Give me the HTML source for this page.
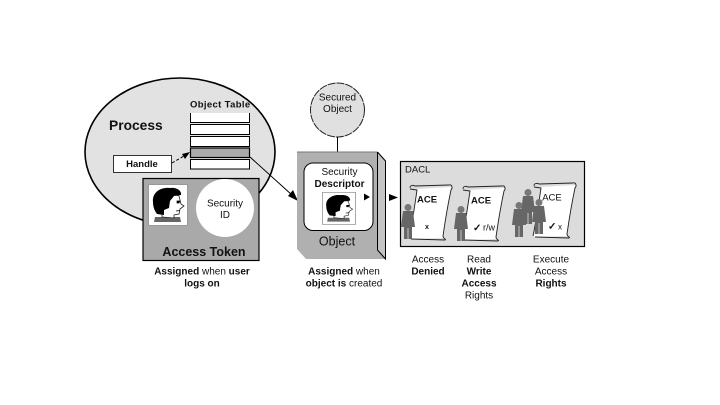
<!DOCTYPE html>
<html><head><meta charset="utf-8"><style>
html,body{margin:0;padding:0;background:#fff}
svg{display:block}
text{font-family:"Liberation Sans",sans-serif;fill:#111}
</style></head><body>
<svg width="720" height="405" viewBox="0 0 720 405" xmlns="http://www.w3.org/2000/svg">
<defs>
<g id="face">
<rect x="0.500" y="0.500" width="39" height="41" fill="#fff" stroke="#999" stroke-width="1"/>
<path d="M7 33 L32 33 L33 38 L6 38Z" fill="#666"/>
<path d="M14 33 L14 24 L14 14 L25 10 L31 12 L33 20 L36 22 L32 25 L31 30 L26 31 L26 34Z" fill="#fff" stroke="#222" stroke-width=".8"/>
<path d="M29 17 L32 17 L31 19 L29 19Z M28 27 L32 26.500" fill="#000" stroke="#000" stroke-width=".7"/>
<path d="M5 18 C4 8 13 3 22 4 C29 3 34 7 33 11 L26 12 L22 17 L21 24 L16 26 L16 31 L9 30 C6 26 5 22 5 18Z" fill="#000"/>
</g>
<g id="scroll">
<path d="M9 5 L43 3 C40 20 37 38 35 54 L2 55Z" fill="#fff"/>
<path d="M2 4 C2 1 5 1 7 2 L41 1 C44 0 45 4 43 6 C40 20 37 38 35 52 C35 55 39 55 37 56 L3 55" fill="none" stroke="#222" stroke-width=".9"/>
<path d="M2 5 L9 6 C7 20 4 40 1 54" fill="none" stroke="#222" stroke-width=".9"/>
</g>
<g id="person">
<circle cx="8" cy="4.500" r="3.500" fill="#777"/>
<path d="M3 8 L13 8 L15 24 L12 24 L12 36 L4 36 L4 24 L1 24Z" fill="#666"/>
<path d="M7.600 25 L8.400 25 L8.400 36 L7.600 36Z" fill="#ddd"/>
</g>
</defs>
<rect width="720" height="405" fill="#fff"/>

<ellipse cx="180" cy="152" rx="95" ry="74" fill="#e2e2e2" stroke="#000" stroke-width="1.600"/>
<text x="109" y="130" font-size="13.800" font-weight="bold">Process</text>
<text x="190" y="107.500" font-size="9.500" font-weight="bold" letter-spacing=".35">Object Table</text>

<path d="M190.500 113V122.500H249.500V113" fill="#fff" stroke="#000"/>
<rect x="190.500" y="124.500" width="59" height="10" fill="#fff" stroke="#000"/>
<rect x="190.500" y="136.500" width="59" height="10" fill="#fff" stroke="#000"/>
<rect x="190.500" y="148" width="59" height="9.500" fill="#aaa" stroke="#000" stroke-width="1.200"/>
<rect x="190.500" y="159.500" width="59" height="9.500" fill="#fff" stroke="#000"/>

<rect x="113.500" y="155.500" width="58" height="17" fill="#fff" stroke="#333"/>
<text x="142" y="167" font-size="9.500" font-weight="bold" text-anchor="middle">Handle</text>
<path d="M172 163 L184 156" stroke="#000" stroke-dasharray="3 2" fill="none"/>
<path d="M190 152 L182 154 L185 159Z" fill="#000"/>

<rect x="143" y="178.500" width="116" height="82" fill="#a9a9a9" stroke="#000" stroke-width="1.200"/>
<use href="#face" x="148" y="184"/>
<circle cx="225" cy="208" r="29" fill="#fff"/>
<text x="225" y="206.500" font-size="10" text-anchor="middle">Security</text>
<text x="225" y="218" font-size="10" text-anchor="middle">ID</text>
<text x="204" y="256" font-size="12.500" font-weight="bold" text-anchor="middle">Access Token</text>

<path d="M250 157 L292 195" stroke="#000" fill="none"/>
<path d="M298 201 L288 196 L293 190Z" fill="#000"/>

<circle cx="337.500" cy="110" r="27" fill="#e0e0e0" stroke="#222" stroke-dasharray="8 1"/>
<text x="337.500" y="100.500" font-size="10" text-anchor="middle">Secured</text>
<text x="337.500" y="112" font-size="10" text-anchor="middle">Object</text>
<path d="M337.500 137V152" stroke="#000"/>

<path d="M297 152 H377 L386 161 V259 H306 L297 249Z" fill="#b0b0b0"/>
<path d="M377.500 152 V250 L385.500 259 V161 L377.500 152" fill="#c4c4c4" stroke="#000" stroke-width="1"/>
<path d="M297 152 H377" stroke="#777"/>
<rect x="304" y="163" width="69" height="67.500" rx="9" fill="#fff" stroke="#000"/>
<text x="339.500" y="175" font-size="10" text-anchor="middle">Security</text>
<text x="339.500" y="187" font-size="10" font-weight="bold" text-anchor="middle">Descriptor</text>
<use href="#face" transform="translate(322 192) scale(.85 .78)"/>
<path d="M364 193.500 L370 197 L364 200.500Z" fill="#000"/>
<text x="337" y="245.500" font-size="12.500" text-anchor="middle">Object</text>
<path d="M389 194 L398 197.500 L389 201Z" fill="#000"/>

<rect x="400.500" y="161.500" width="184" height="85" fill="#dcdcdc" stroke="#000" stroke-width="1.200"/>
<text x="405" y="172.500" font-size="9.500">DACL</text>
<use href="#scroll" transform="translate(408 184)"/>
<use href="#scroll" transform="translate(461 185)"/>
<use href="#scroll" transform="translate(532 182)"/>
<text x="427" y="202.500" font-size="9.500" font-weight="bold" text-anchor="middle">ACE</text>
<text x="481" y="203.500" font-size="9.500" font-weight="bold" text-anchor="middle">ACE</text>
<text x="552" y="200.500" font-size="9.500" text-anchor="middle">ACE</text>
<text x="427" y="229" font-size="7" font-weight="bold" text-anchor="middle">x</text>
<text x="473" y="231" font-size="10" font-weight="bold">✓</text>
<text x="483" y="230.500" font-size="9">r/w</text>
<text x="548" y="229.500" font-size="10" font-weight="bold">✓</text>
<text x="558" y="229.500" font-size="8">x</text>
<use href="#person" x="400" y="203"/>
<use href="#person" x="453" y="205"/>
<use href="#person" x="520" y="188"/>
<use href="#person" x="511" y="201"/>
<use href="#person" x="531" y="198"/>

<g font-size="10" text-anchor="middle">
<text x="202" y="274.500"><tspan font-weight="bold">Assigned</tspan> when <tspan font-weight="bold">user</tspan></text>
<text x="202" y="286.500" font-weight="bold">logs on</text>
<text x="344" y="274.500"><tspan font-weight="bold">Assigned</tspan> when</text>
<text x="344" y="286.500"><tspan font-weight="bold">object is</tspan> created</text>
<text x="428" y="262.500">Access</text>
<text x="428" y="274.500" font-weight="bold">Denied</text>
<text x="479" y="262.500">Read</text>
<text x="479" y="274.500" font-weight="bold">Write</text>
<text x="479" y="286.500" font-weight="bold">Access</text>
<text x="479" y="298.500">Rights</text>
<text x="551" y="262.500">Execute</text>
<text x="551" y="274.500">Access</text>
<text x="551" y="286.500" font-weight="bold">Rights</text>
</g>
</svg>
</body></html>
